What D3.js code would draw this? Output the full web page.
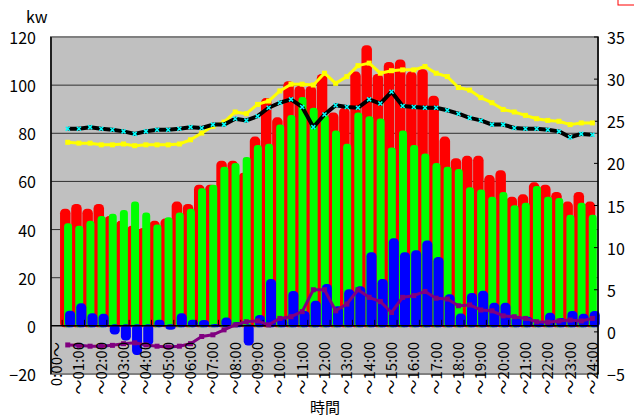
<!DOCTYPE html>
<html>
<head>
<meta charset="utf-8">
<script src="https://cdn.jsdelivr.net/npm/d3@7"></script>
<style>
  body { margin: 0; background: #fff; }
  svg { display: block; font-family: "Noto Sans CJK JP", "Noto Sans", sans-serif; }
</style>
</head>
<body>
<script>
// 48 half-hour slots (slot 0 is the empty "0:00～" category)
const hourLabels = ["0:00～", "～01:00", "～02:00", "～03:00", "～04:00", "～05:00", "～06:00",
    "～07:00", "～08:00", "～09:00", "～10:00", "～11:00", "～12:00", "～13:00", "～14:00",
    "～15:00", "～16:00", "～17:00", "～18:00", "～19:00", "～20:00", "～21:00", "～22:00",
    "～23:00", "～24:00"];

// kw, left axis
const redVals = [48, 50, 48, 50, 45, 43, 41, 40, 43, 44, 51, 50, 58, 58, 68, 68,
    63, 78, 94, 86, 101, 99, 99, 104, 88, 90, 105, 116, 104, 109, 110, 105,
    106, 95, 78, 69, 70, 70, 62, 64, 53, 54, 59, 58, 55, 51, 55, 51];
const greenVals = [42, 41, 43, 45, 46, 47.5, 51, 46.5, 41.5, 44.5, 46.5, 48, 56.5, 58, 65.5, 67,
    69.5, 74.5, 75, 83, 87, 94.5, 90, 87, 80.5, 75, 88, 86.5, 85.5, 73.5, 80.5, 74.5,
    71, 67, 65.5, 64.5, 57, 56, 53, 55, 49.5, 50.5, 57.5, 53, 52.5, 45.5, 50.5, 45.5];
const blueVals = [5.7, 8.8, 4.6, 4.4, -3, -5.5, -11.5, -7.5, 1.9, -1, 4.6, 1.9, 1.8, 0.2, 2.8, 1,
    -7.5, 3.9, 18.8, 2.6, 13.9, 5.5, 9.8, 16.8, 7.5, 14.6, 15.8, 30, 18.8, 35.8, 30, 30.8,
    34.8, 28, 12.5, 4.5, 13, 14, 9, 9, 3.5, 3.2, 1.3, 4.8, 2.6, 5.6, 4.4, 5.5];

// right axis
const yellowVals = [22.5, 22.4, 22.4, 22.2, 22.2, 22.3, 22.1, 22.2, 22.2, 22.2, 22.3, 22.8, 23.6, 24.4, 24.9, 26.1,
    25.9, 27.0, 27.4, 28.6, 29.4, 29.4, 29.3, 30.7, 29.5, 30.3, 31.6, 31.9, 30.7, 31.0, 31.1, 31.1,
    31.5, 30.7, 30.3, 29.0, 28.7, 27.8, 27.2, 26.4, 26.1, 25.7, 25.3, 25.1, 25.0, 24.6, 24.8, 24.8];
const blackVals = [24.1, 24.1, 24.3, 24.1, 24.0, 23.8, 23.5, 23.8, 24.0, 24.0, 24.1, 24.3, 24.2, 24.6, 24.6, 25.3,
    25.1, 25.6, 26.6, 27.2, 27.6, 26.7, 24.3, 25.8, 26.9, 26.7, 26.6, 27.6, 27.1, 28.5, 26.8, 26.7,
    26.6, 26.6, 26.3, 25.9, 25.4, 25.1, 24.6, 24.6, 24.2, 24.1, 24.1, 24.0, 23.8, 23.1, 23.5, 23.4];
const purpleVals = [-1.55, -1.6, -1.7, -1.7, -1.6, -1.4, -1.3, -1.55, -1.7, -1.8, -1.7, -1.4, -0.55, -0.35, 0.24, 0.83,
    1.2, 1.3, 0.83, 1.6, 1.8, 2.4, 5.0, 5.0, 2.5, 3.3, 5.0, 4.1, 3.6, 2.3, 4.1, 4.3,
    4.8, 4.0, 3.9, 3.1, 3.2, 2.6, 2.5, 1.9, 1.8, 1.6, 1.2, 1.15, 1.3, 1.4, 1.3, 1.6];

const leftTicks = [-20, 0, 20, 40, 60, 80, 100, 120];
const rightTicks = [-5, 0, 5, 10, 15, 20, 25, 30, 35];

const width = 634, height = 418;
const plot = {left: 51, right: 598, top: 37, bottom: 374};

const svg = d3.select("body").append("svg")
    .attr("width", width)
    .attr("height", height);

const x = d3.scaleBand()
    .domain(d3.range(redVals.length + 1))
    .range([plot.left, plot.right])
    .padding(0);
const bw = x.bandwidth();
const cx = i => x(i) + bw / 2;

const yL = d3.scaleLinear().domain([-20, 120]).range([plot.bottom, plot.top]);
const yR = d3.scaleLinear().domain([-5, 35]).range([plot.bottom, plot.top]);

// plot background
svg.append("rect")
    .attr("x", plot.left).attr("y", plot.top)
    .attr("width", plot.right - plot.left).attr("height", plot.bottom - plot.top)
    .attr("fill", "#c0c0c0")
    .attr("stroke", "#808080")
    .attr("stroke-width", 2);

// gridlines
svg.append("g")
    .selectAll("line")
    .data(leftTicks.filter(d => d > -20 && d < 120 && d !== 0))
    .join("line")
    .attr("x1", plot.left).attr("x2", plot.right)
    .attr("y1", d => yL(d)).attr("y2", d => yL(d))
    .attr("stroke", "#303030")
    .attr("stroke-width", 1);

// bars: data slots start at category 1, ends rounded like the thick outline in the original
function drawBars(vals, color, offset, w) {
    const pad = 1.5;
    svg.append("g")
        .selectAll("rect")
        .data(vals)
        .join("rect")
        .attr("x", (d, i) => cx(i + 1) + offset * bw - w / 2)
        .attr("y", d => Math.min(yL(d), yL(0)) - pad)
        .attr("width", w)
        .attr("height", d => Math.abs(yL(d) - yL(0)) + pad * 2)
        .attr("rx", w * 0.42)
        .attr("fill", color);
}
drawBars(redVals, "#ff0000", -0.22, 10.5);
drawBars(greenVals, "#00ff00", 0.03, 8);
drawBars(blueVals, "#0000ff", 0.21, 10);

// category axis at 0
svg.append("line")
    .attr("x1", plot.left).attr("x2", plot.right)
    .attr("y1", yL(0)).attr("y2", yL(0))
    .attr("stroke", "#000").attr("stroke-width", 1.5);

svg.append("g")
    .selectAll("line")
    .data(d3.range(1, redVals.length + 1, 2))
    .join("line")
    .attr("x1", d => x(d)).attr("x2", d => x(d))
    .attr("y1", yL(0) - 6).attr("y2", yL(0))
    .attr("stroke", "#000").attr("stroke-width", 1);

// left and right axis lines
svg.append("line")
    .attr("x1", plot.left).attr("x2", plot.left)
    .attr("y1", plot.top).attr("y2", plot.bottom)
    .attr("stroke", "#000").attr("stroke-width", 1.5);
svg.append("line")
    .attr("x1", plot.right).attr("x2", plot.right)
    .attr("y1", plot.top).attr("y2", plot.bottom)
    .attr("stroke", "#000").attr("stroke-width", 1.5);

svg.append("g")
    .selectAll("line")
    .data(rightTicks)
    .join("line")
    .attr("x1", plot.right - 4).attr("x2", plot.right)
    .attr("y1", d => yR(d)).attr("y2", d => yR(d))
    .attr("stroke", "#000");

// lines on right axis
function drawLine(vals, color, lw, marker, mColor) {
    const line = d3.line()
        .x((d, i) => cx(i + 1))
        .y(d => yR(d));
    svg.append("path")
        .datum(vals)
        .attr("d", line)
        .attr("fill", "none")
        .attr("stroke", color)
        .attr("stroke-width", lw)
        .attr("stroke-linejoin", "round");
    const g = svg.append("g");
    if (marker === "square") {
        g.selectAll("rect")
            .data(vals)
            .join("rect")
            .attr("x", (d, i) => cx(i + 1) - 2.5)
            .attr("y", d => yR(d) - 2.5)
            .attr("width", 5).attr("height", 5)
            .attr("fill", mColor);
    } else {
        g.selectAll("path")
            .data(vals)
            .join("path")
            .attr("d", (d, i) => {
                const px = cx(i + 1), py = yR(d), s = 2;
                return `M${px - s},${py - s}L${px + s},${py + s}M${px - s},${py + s}L${px + s},${py - s}`;
            })
            .attr("stroke", mColor)
            .attr("stroke-width", 1.5);
    }
}
drawLine(yellowVals, "#ffff00", 3, "square", "#ffff00");
drawLine(blackVals, "#000000", 4, "cross", "#00ffff");
drawLine(purpleVals, "#800080", 3, "square", "#800080");

// left axis labels
svg.append("g")
    .selectAll("text")
    .data(leftTicks)
    .join("text")
    .attr("x", 36)
    .attr("y", d => yL(d))
    .attr("text-anchor", "end")
    .attr("dominant-baseline", "central")
    .attr("font-size", 16)
    .text(d => d < 0 ? "\u2212" + Math.abs(d) : d);

// right axis labels
svg.append("g")
    .selectAll("text")
    .data(rightTicks)
    .join("text")
    .attr("x", 607)
    .attr("y", d => yR(d))
    .attr("dominant-baseline", "central")
    .attr("font-size", 16)
    .text(d => d < 0 ? "\u2212" + Math.abs(d) : d);

// category labels, every other slot
svg.append("g")
    .selectAll("text")
    .data(hourLabels)
    .join("text")
    .attr("transform", (d, i) => `translate(${cx(i * 2) - 1},342) rotate(-90)`)
    .attr("text-anchor", "end")
    .attr("dominant-baseline", "central")
    .attr("font-size", 15)
    .text(d => d);

svg.append("text")
    .attr("x", 26).attr("y", 23)
    .attr("font-size", 16)
    .text("kw");

svg.append("text")
    .attr("x", 325).attr("y", 413)
    .attr("text-anchor", "middle")
    .attr("font-size", 15)
    .text("時間");

// clipped legend box at the top right
svg.append("rect")
    .attr("x", 618).attr("y", -4)
    .attr("width", 20).attr("height", 9)
    .attr("fill", "#fff")
    .attr("stroke", "#ff0000")
    .attr("stroke-width", 1);
</script>
</body>
</html>
